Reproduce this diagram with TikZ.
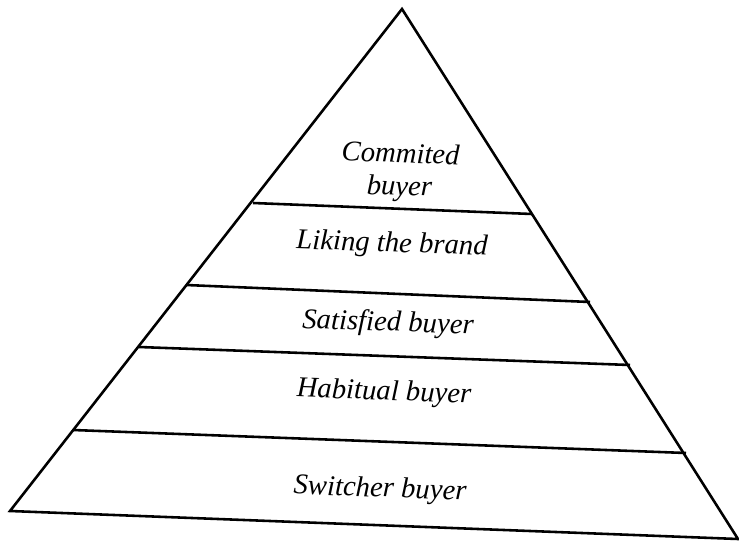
\documentclass[tikz,border=0pt]{standalone}
\usepackage{fontspec}
\setmainfont{Liberation Serif}[ItalicFont={Liberation Serif Italic}]
\usepackage{tikz}

\tikzset{
    level/.style={font=\fontsize{24.5}{27}\selectfont\itshape, inner sep=1pt, rotate=-2, align=center},
    edge/.style={black, line width=2.2pt, line join=miter}
}

\begin{document}
\begin{tikzpicture}[x=0.03cm, y=-0.03cm]
        \useasboundingbox (0,0) rectangle (739,541); % same size as the scan

        % corners of the pyramid
        \coordinate (apex) at (402,9);
        \coordinate (bl) at (10,511);
        \coordinate (br) at (738,539);
        \draw[edge] (bl) -- (apex) -- (br) -- cycle;

        % the dividing lines, left end and right end
        \coordinate (l1) at (253,203); \coordinate (r1) at (532,214);
        \coordinate (l2) at (186,285); \coordinate (r2) at (590,302);
        \coordinate (l3) at (139,347); \coordinate (r3) at (630,365);
        \coordinate (l4) at (73,430);  \coordinate (r4) at (686,453);
        \foreach \i in {1,...,4}{
            \draw[edge] (l\i) -- (r\i);
        }

        \node[level] (commited) at (400,172) {Commited\\[1pt]buyer};
        \node[level] (liking) at (392,245) {Liking the brand};
        \node[level] (satisfied) at (388,324) {Satisfied buyer};
        \node[level] (habitual) at (384,393) {Habitual buyer};
        \node[level] (switcher) at (380,490) {Switcher buyer};
    \end{tikzpicture}
\end{document}
